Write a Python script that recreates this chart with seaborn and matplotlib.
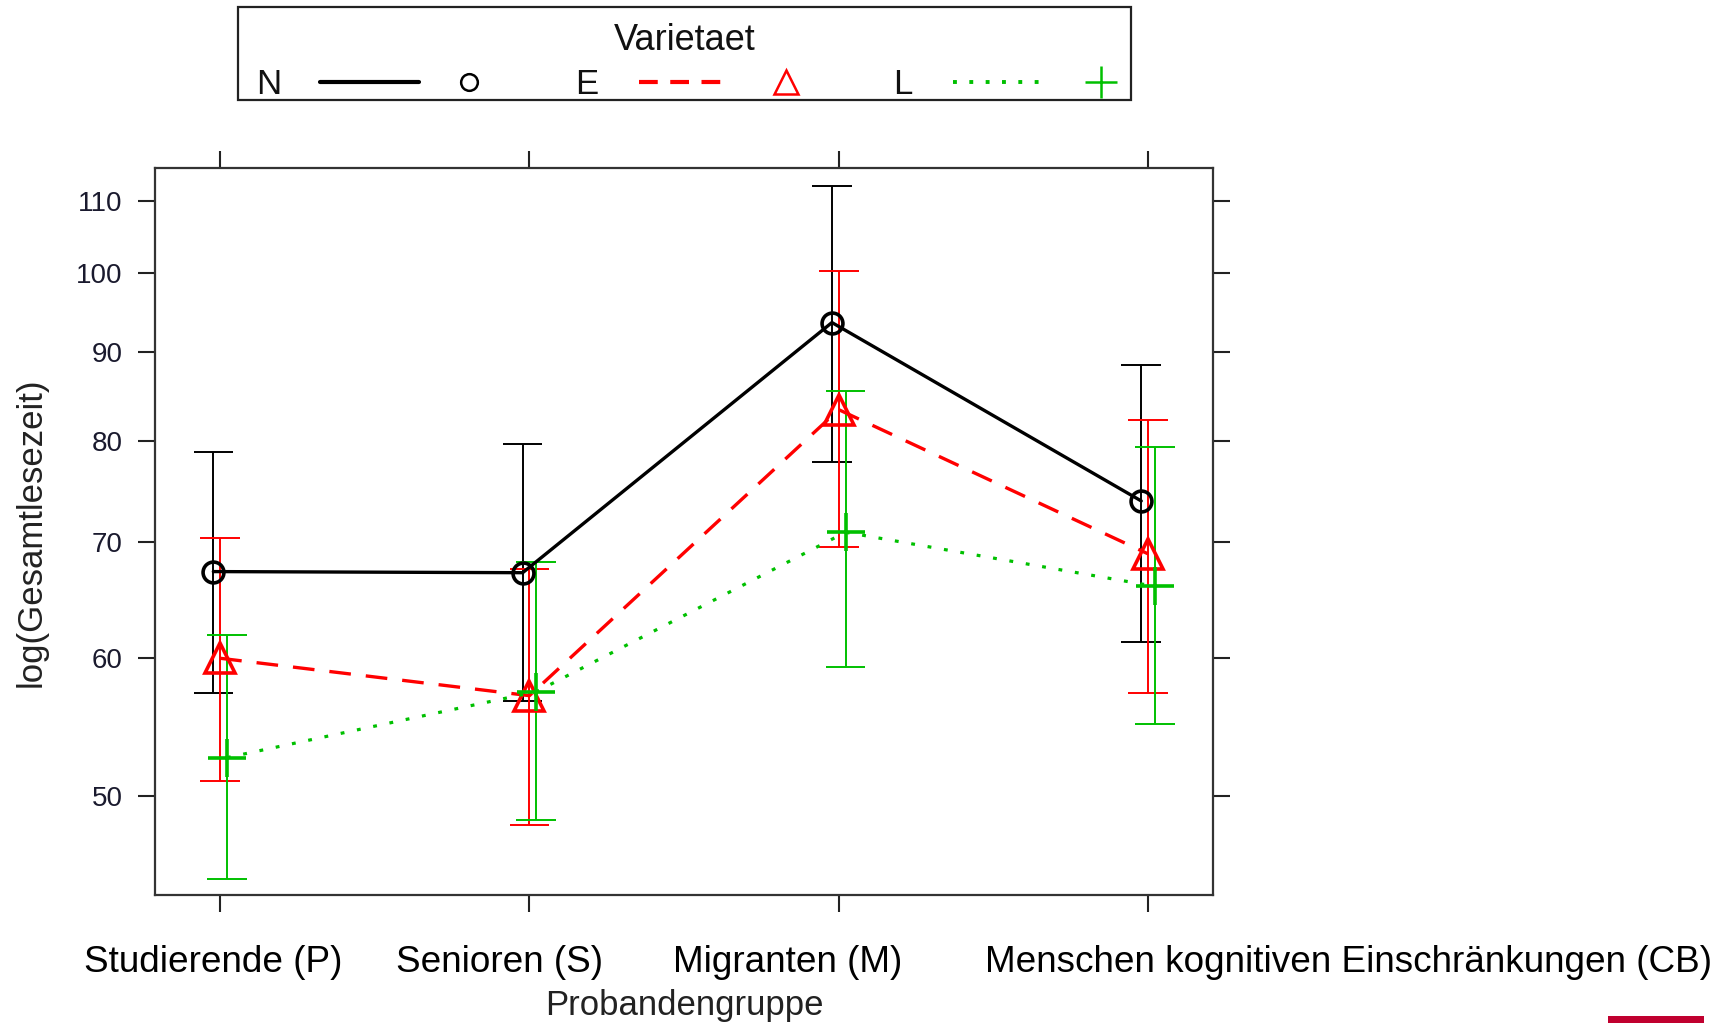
import numpy as np
import pandas as pd
import matplotlib
matplotlib.use("Agg")
import matplotlib.pyplot as plt
import seaborn as sns
from matplotlib.patches import Rectangle
from matplotlib.lines import Line2D
from matplotlib.ticker import NullLocator, FixedLocator

# --- data -------------------------------------------------------------
groups = ["Studierende (P)", "Senioren (S)", "Migranten (M)",
          "Menschen kognitiven Einschränkungen (CB)"]
varieties = ["N", "E", "L"]

fit_N = [67.3, 67.2, 93.6, 73.9]
lower_N = [57.3, 56.7, 77.8, 61.3]
upper_N = [78.9, 79.7, 112.1, 88.5]

fit_E = [60.0, 57.1, 83.4, 68.9]
lower_E = [51.0, 48.1, 69.5, 57.3]
upper_E = [70.4, 67.5, 100.2, 82.3]

fit_L = [52.6, 57.4, 70.9, 66.0]
lower_L = [44.8, 48.4, 59.3, 55.0]
upper_L = [61.9, 68.2, 85.5, 79.4]

y_ticks = [50, 60, 70, 80, 90, 100, 110]

# --- styling ------------------------------------------------------------
colors = {"N": "#000000", "E": "#FF0000", "L": "#00C000"}
markers = {"N": "o", "E": "^", "L": "+"}
dashes = {"N": None, "E": (6.5, 4.5), "L": (1.2, 4.0)}
msize = {"N": 15, "E": 22, "L": 28}
lwidth = {"N": 2.4, "E": 2.4, "L": 2.3}
dodge = {"N": -0.022, "E": 0.0, "L": 0.022}

fits = {"N": fit_N, "E": fit_E, "L": fit_L}
lows = {"N": lower_N, "E": lower_E, "L": lower_L}
ups = {"N": upper_N, "E": upper_E, "L": upper_L}

rows = []
for v in varieties:
    for i, g in enumerate(groups):
        rows.append({"Probandengruppe": g, "Varietaet": v,
                     "xpos": i + dodge[v], "fit": fits[v][i],
                     "lower": lows[v][i], "upper": ups[v][i]})
df = pd.DataFrame(rows)

sns.set_theme(style="white")
plt.rcParams["font.family"] = ["Liberation Sans", "DejaVu Sans"]

W, H = 1726, 1023
fig = plt.figure(figsize=(W / 100, H / 100), dpi=100)
ax = fig.add_axes([155.2 / W, 1 - 895 / H, (1213 - 155.2) / W, (895 - 168.4) / H])

# error bars with caps
cap = 0.064
for v in varieties:
    sub = df[df["Varietaet"] == v]
    ax.vlines(sub["xpos"], sub["lower"], sub["upper"], color=colors[v], lw=1.4, zorder=2)
    ax.hlines(sub["lower"], sub["xpos"] - cap, sub["xpos"] + cap, color=colors[v], lw=1.4, zorder=2)
    ax.hlines(sub["upper"], sub["xpos"] - cap, sub["xpos"] + cap, color=colors[v], lw=1.4, zorder=2)

# fitted means, one line per variety
for v in varieties:
    sub = df[df["Varietaet"] == v]
    n_before = len(ax.get_lines())
    sns.lineplot(data=sub, x="xpos", y="fit", color=colors[v], marker=markers[v],
                 markersize=msize[v], markerfacecolor="none", markeredgecolor=colors[v],
                 markeredgewidth=2.6, linewidth=lwidth[v], legend=False, ax=ax,
                 zorder=3, errorbar=None)
    line = ax.get_lines()[n_before]
    if dashes[v] is not None:
        line.set_dashes(dashes[v])

ax.set_yscale("log")
ax.set_ylim(43.85, 114.8)
ax.set_xlim(-0.21, 3.21)
ax.yaxis.set_major_locator(FixedLocator(y_ticks))
ax.yaxis.set_minor_locator(NullLocator())
ax.set_yticklabels([str(t) for t in y_ticks])
ax.set_xticks(range(len(groups)))
ax.set_xticklabels([])
ax.set_xlabel("")
ax.set_ylabel("")
ax.tick_params(axis="x", which="major", direction="out", length=12.5, width=1.5,
               color="#222222", top=True, bottom=True)
ax.tick_params(axis="y", which="major", direction="out", length=12.5, width=1.5,
               color="#222222", left=True, right=True, pad=11, labelsize=20,
               labelcolor="#1a1a2e")
for s in ax.spines.values():
    s.set_color("#333333")
    s.set_linewidth(1.6)

# group labels under the panel
label_left_px = [83.7, 396.3, 672.6, 985.2]
for g, xl in zip(groups, label_left_px):
    fig.text(xl / W, 1 - 963 / H, g, ha="left", va="center", fontsize=26.6, color="black")

fig.text(684.6 / W, 1 - 1005.5 / H, "Probandengruppe", ha="center", va="center",
         fontsize=25, color="#222222")
fig.text(31 / W, 1 - 532 / H, "log(Gesamtlesezeit)", ha="center", va="center",
         rotation=90, fontsize=25, color="#222222")

# key above the panel, laid out in pixel coordinates
lax = fig.add_axes([0, 0, 1, 1], zorder=-1)
lax.set_xlim(0, W)
lax.set_ylim(H, 0)
lax.axis("off")
lax.add_patch(Rectangle((237.8, 6.6), 1130.5 - 237.8, 100.2 - 6.6, fill=False,
                        lw=1.6, edgecolor="#222222"))
lax.text(684.6, 40, "Varietaet", ha="center", va="center", fontsize=26, color="#111111")
key_y = 82
key_label_x = {"N": 268.6, "E": 586.7, "L": 902.7}
key_line_x = {"N": (320.3, 419.4), "E": (638.5, 731.0), "L": (953.3, 1046.0)}
key_mark_x = {"N": 469.0, "E": 786.0, "L": 1100.8}
key_msize = {"N": 12, "E": 17, "L": 23}
for v in varieties:
    lax.text(key_label_x[v], key_y + 2, v, ha="center", va="center", fontsize=25, color="#111111")
    x0, x1 = key_line_x[v]
    ln = Line2D([x0, x1], [key_y, key_y], color=colors[v],
                lw=3.0 if v != "L" else 2.8)
    if v == "E":
        ln.set_dashes((4.5, 3.0))
    elif v == "L":
        ln.set_dashes((1.0, 3.2))
    lax.add_line(ln)
    lax.add_line(Line2D([key_mark_x[v]], [key_y], marker=markers[v], ms=key_msize[v],
                        mfc="none", mec=colors[v], mew=1.8, lw=0))

# small accent bar in the lower right corner
lax.add_patch(Rectangle((1608, 1015.7), 96, 7.3, color="#C0002F", lw=0))

fig.savefig("out.png", dpi=100, facecolor="white")
